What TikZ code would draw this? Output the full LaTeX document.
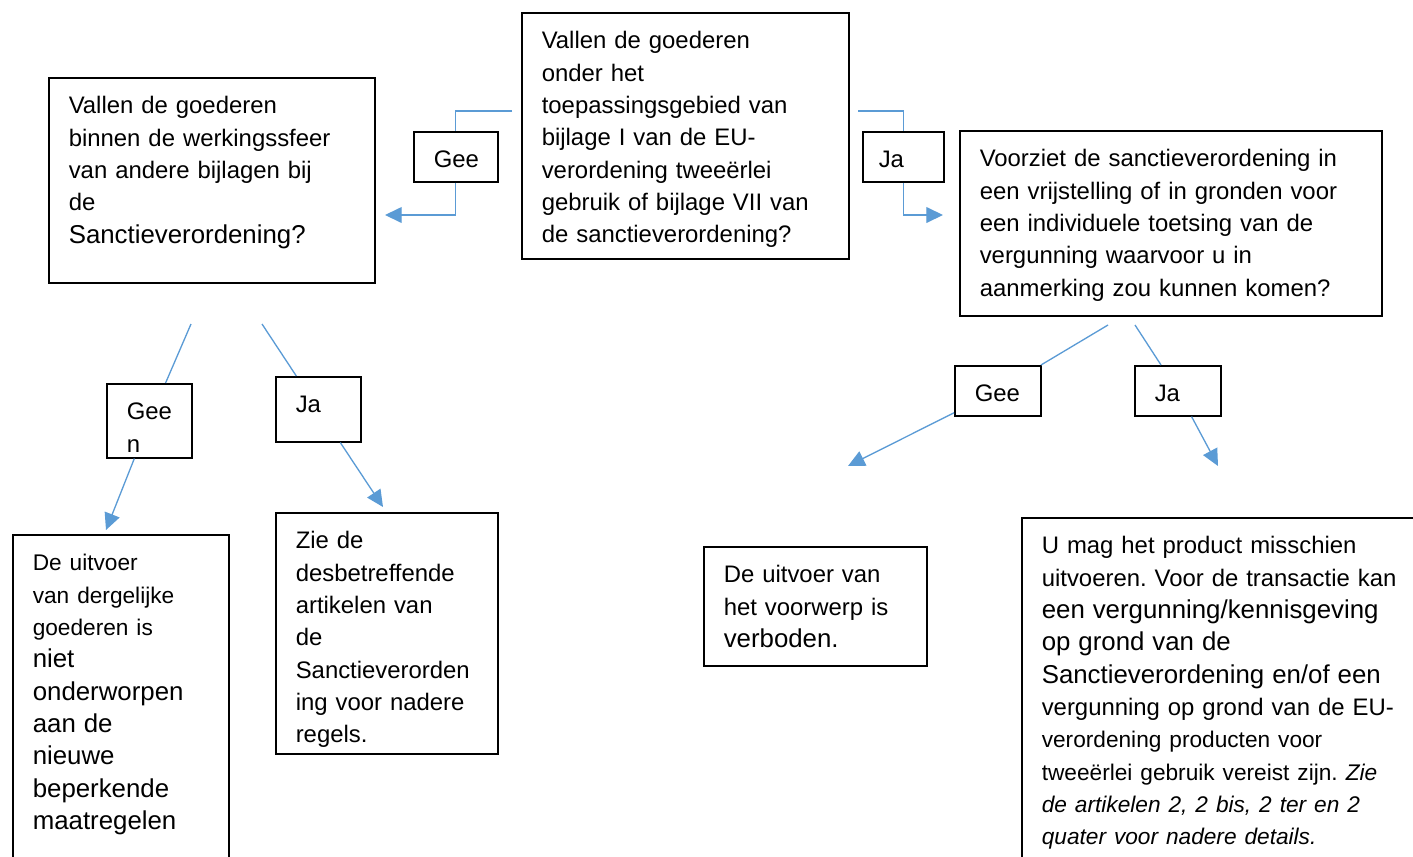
\documentclass[tikz,border=0pt]{standalone}
\usepackage{fontspec}
\setmainfont{Liberation Sans}
\usepackage{xcolor}
\usetikzlibrary{arrows.meta}

\definecolor{lijnblauw}{RGB}{91,155,213}
\newcommand{\gewoonfont}{\fontsize{13.6}{18.4}\selectfont}
\newcommand{\kleinfont}{\fontsize{12.9}{18.4}\selectfont}
\newcommand{\grootfont}{\fontsize{14.7}{18.4}\selectfont}
\frenchspacing

\begin{document}
\begin{tikzpicture}[x=0.02cm, y=-0.02cm]

\tikzset{
    kader/.style = {
    draw, line width=0.9pt, anchor=north west,
    inner xsep=0.4cm, inner ysep=0pt,
    text height=0.72cm, align=left,
    font=\gewoonfont
    }
}

\tikzstyle{lijn}=[draw=lijnblauw, line width=0.75pt]
\tikzstyle{pijl}=[lijn, -{Triangle[length=9.5pt, width=9pt]}]

\useasboundingbox (0,0) rectangle (1413,856);

% vragen
\node (v-1) [kader, text width=5.74cm, text depth=4.20cm] at (521,12) {Vallen de goederen\\ onder het\\ toepassingsgebied van\\ bijlage I van de EU-\\ verordening tweeërlei\\ gebruik of bijlage VII van\\ de sanctieverordening?};
\node (v-2) [kader, text width=5.72cm, text depth=3.38cm] at (48,77) {Vallen de goederen\\ binnen de werkingssfeer\\ van andere bijlagen bij\\ de\\ \grootfont Sanctieverordening?};
\node (v-3) [kader, text width=7.64cm, text depth=2.98cm] at (959,130) {Voorziet de sanctieverordening in\\ een vrijstelling of in gronden voor\\ een individuele toetsing van de\\ vergunning waarvoor u in\\ aanmerking zou kunnen komen?};

% keuzes
\node (k-1) [kader, text width=0.88cm, text depth=0.28cm] at (413,131) {Gee};
\node (k-2) [kader, inner xsep=0.32cm, text width=0.98cm, text depth=0.28cm] at (862,131) {Ja};
\node (k-3) [kader, text width=0.90cm, text depth=0.76cm] at (106,383) {Gee\\ n};
\node (k-4) [kader, text width=0.90cm, text depth=0.58cm] at (275,376) {Ja};
\node (k-5) [kader, text width=0.92cm, text depth=0.28cm] at (954,365) {Gee};
\node (k-6) [kader, text width=0.92cm, text depth=0.28cm] at (1134,365) {Ja};

% uitkomsten
\node (u-1) [kader, text width=3.52cm, text depth=6.08cm] at (12,534) {\kleinfont De uitvoer\\ van dergelijke\\ goederen is\\ \grootfont niet\\ onderworpen\\ aan de\\ nieuwe\\ beperkende\\ maatregelen};
\node (u-2) [kader, text width=3.64cm, text depth=4.10cm] at (275,512) {Zie de\\ desbetreffende\\ artikelen van\\ de\\ Sanctieverorden\\ ing voor nadere\\ regels.};
\node (u-3) [kader, text width=3.66cm, text depth=1.66cm] at (703,546) {De uitvoer van\\ het voorwerp is\\ \grootfont verboden.};
\node (u-4) [kader, text width=7.40cm, text depth=6.28cm] at (1021,517) {U mag het product misschien\\ uitvoeren. Voor de transactie kan\\ \grootfont een vergunning/kennisgeving\\ op grond van de\\ Sanctieverordening en/of een\\ \gewoonfont vergunning op grond van de EU-\\ \kleinfont verordening producten voor\\ tweeërlei gebruik vereist zijn. \textit{Zie}\\ \textit{de artikelen 2, 2 bis, 2 ter en 2}\\ \textit{quater voor nadere details.}};

\coordinate (s-1) at (512,111);
\coordinate (e-1) at (385,215);
\coordinate (s-2) at (858,111);
\coordinate (e-2) at (943,215);
\coordinate (s-3) at (191,324);
\coordinate (e-3) at (106,530);
\coordinate (s-4) at (262,324);
\coordinate (e-4) at (383,507);
\coordinate (s-5) at (1108,325);
\coordinate (e-5) at (848,466);
\coordinate (s-6) at (1135,325);
\coordinate (e-6) at (1218,466);

\draw[lijn] (s-1) -| (k-1.north);
\draw[pijl] (k-1.south) |- (e-1);
\draw[lijn] (s-2) -| (k-2.north);
\draw[pijl] (k-2.south) |- (e-2);

\foreach \i in {3,...,6}{
    \draw[lijn] (s-\i) -- (k-\i);
    \draw[pijl] (k-\i) -- (e-\i);
}

\end{tikzpicture}
\end{document}
